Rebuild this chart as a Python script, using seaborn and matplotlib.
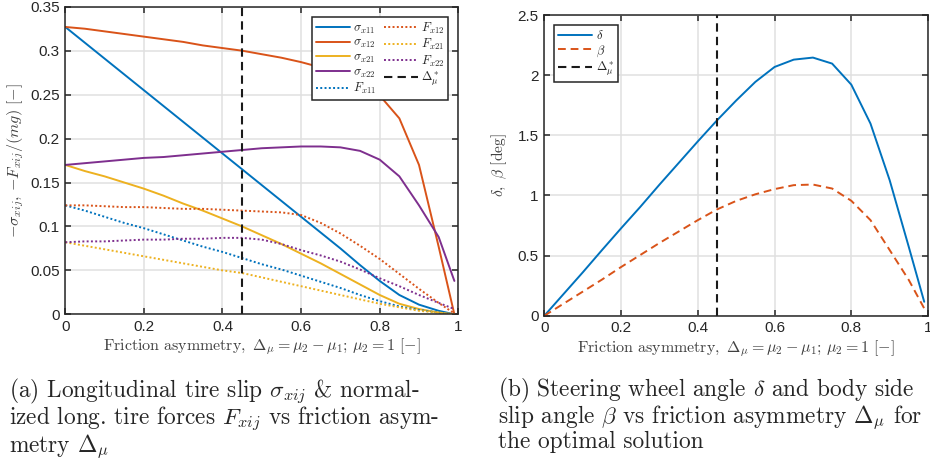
import numpy as np
import pandas as pd
import matplotlib
matplotlib.use("Agg")
import matplotlib.pyplot as plt
import seaborn as sns
from matplotlib.ticker import FormatStrFormatter

# -------------------------
# DATA
# -------------------------
delta_mu = [0.0, 0.05, 0.1, 0.15, 0.2, 0.25, 0.3, 0.35, 0.4, 0.45, 0.5,
            0.55, 0.6, 0.65, 0.7, 0.75, 0.8, 0.85, 0.9, 0.95, 0.99]

sigma_x11 = [0.327, 0.309, 0.291, 0.273, 0.255, 0.237, 0.219, 0.201, 0.183, 0.165, 0.147,
             0.129, 0.111, 0.093, 0.075, 0.056, 0.038, 0.022, 0.011, 0.004, 0.0]
sigma_x12 = [0.327, 0.325, 0.322, 0.319, 0.316, 0.313, 0.310, 0.306, 0.303, 0.300, 0.296,
             0.292, 0.287, 0.281, 0.273, 0.262, 0.249, 0.223, 0.170, 0.077, 0.0]
sigma_x21 = [0.170, 0.163, 0.157, 0.150, 0.143, 0.135, 0.126, 0.118, 0.109, 0.100, 0.090,
             0.080, 0.069, 0.058, 0.046, 0.034, 0.022, 0.012, 0.006, 0.002, 0.0]
sigma_x22 = [0.170, 0.172, 0.174, 0.176, 0.178, 0.179, 0.181, 0.183, 0.185, 0.187, 0.189,
             0.190, 0.191, 0.191, 0.190, 0.186, 0.176, 0.157, 0.124, 0.088, 0.038]
F_x11 = [0.124, 0.118, 0.111, 0.104, 0.098, 0.091, 0.084, 0.077, 0.071, 0.064, 0.057,
         0.051, 0.044, 0.037, 0.030, 0.022, 0.015, 0.009, 0.005, 0.002, 0.0]
F_x12 = [0.124, 0.124, 0.123, 0.122, 0.122, 0.121, 0.120, 0.120, 0.119, 0.118, 0.117,
         0.116, 0.113, 0.104, 0.092, 0.078, 0.063, 0.046, 0.029, 0.013, 0.001]
F_x21 = [0.082, 0.078, 0.074, 0.070, 0.066, 0.062, 0.058, 0.054, 0.050, 0.047, 0.042,
         0.037, 0.032, 0.027, 0.022, 0.017, 0.012, 0.008, 0.004, 0.002, 0.0]
F_x22 = [0.082, 0.083, 0.083, 0.084, 0.085, 0.085, 0.086, 0.086, 0.087, 0.087, 0.085,
         0.080, 0.073, 0.067, 0.060, 0.051, 0.041, 0.032, 0.022, 0.013, 0.006]

delta_deg = [0.0, 0.18, 0.36, 0.545, 0.727, 0.905, 1.09, 1.27, 1.45, 1.625, 1.79,
             1.945, 2.069, 2.13, 2.147, 2.097, 1.922, 1.598, 1.127, 0.57, 0.116]
beta_deg = [0.0, 0.10, 0.20, 0.30, 0.405, 0.505, 0.605, 0.70, 0.795, 0.884, 0.955,
            1.01, 1.053, 1.086, 1.091, 1.058, 0.956, 0.795, 0.546, 0.296, 0.061]

delta_mu_opt = 0.45

x_ticks = [0, 0.2, 0.4, 0.6, 0.8, 1]
y_ticks_a = [0, 0.05, 0.1, 0.15, 0.2, 0.25, 0.3, 0.35]
y_ticks_b = [0, 0.5, 1, 1.5, 2, 2.5]

# MATLAB default colours
C_BLUE, C_RED, C_YEL, C_PUR = "#0072BD", "#D95319", "#EDB120", "#7E2F8E"

# -------------------------
# STYLE
# -------------------------
sns.set_theme(style="ticks")
plt.rcParams["font.family"] = ["Liberation Sans", "DejaVu Sans"]
plt.rcParams["mathtext.fontset"] = "cm"
plt.rcParams["axes.edgecolor"] = "#262626"
plt.rcParams["axes.linewidth"] = 1.1
plt.rcParams["xtick.color"] = "#262626"
plt.rcParams["ytick.color"] = "#262626"

DOT = (0, (1, 1.2))
DASH = (0, (4, 2.5))
VDASH = (0, (4, 2.5))
LW = 1.4
XLABEL = r"$\mathrm{Friction\ asymmetry,}\ \Delta_\mu = \mu_2 - \mu_1;\,\mu_2 = 1\ [{-}]$"


def style_axes(ax, ylim, yticks):
    ax.set_xlim(0, 1)
    ax.set_ylim(*ylim)
    ax.set_xticks(x_ticks)
    ax.set_yticks(yticks)
    ax.xaxis.set_major_formatter(FormatStrFormatter("%g"))
    ax.yaxis.set_major_formatter(FormatStrFormatter("%g"))
    ax.tick_params(direction="in", top=True, right=True, length=4, width=1.1,
                   labelsize=11, pad=4)
    ax.grid(True, color="#e0e0e0", lw=1.1)
    ax.set_axisbelow(True)
    for s in ax.spines.values():
        s.set_visible(True)
    ax.set_xlabel(XLABEL, fontsize=11.5, color="#404040", labelpad=2)


def make_legend(ax, **kw):
    leg = ax.legend(fontsize=9, frameon=True, fancybox=False, framealpha=1,
                    edgecolor="#262626", handlelength=2.7, handletextpad=0.3,
                    labelspacing=0.12, borderaxespad=0.8, borderpad=0.3, **kw)
    leg.get_frame().set_linewidth(1.1)
    return leg


def fit_label_length(fig, label, target_px):
    # scale a rotated label so it spans the same length as in the reference
    fig.canvas.draw()
    h = label.get_window_extent().height
    label.set_fontsize(label.get_fontsize() * target_px / h)


fig = plt.figure(figsize=(9.3, 4.66), dpi=100)
fig.patch.set_facecolor("white")

# -------------------------
# (a) tire slip & forces
# -------------------------
ax1 = fig.add_axes([0.0702, 0.3255, 0.4226, 0.660])
series_a = [
    (sigma_x11, C_BLUE, "-", r"$\sigma_{x11}$"),
    (sigma_x12, C_RED, "-", r"$\sigma_{x12}$"),
    (sigma_x21, C_YEL, "-", r"$\sigma_{x21}$"),
    (sigma_x22, C_PUR, "-", r"$\sigma_{x22}$"),
    (F_x11, C_BLUE, DOT, r"$F_{x11}$"),
    (F_x12, C_RED, DOT, r"$F_{x12}$"),
    (F_x21, C_YEL, DOT, r"$F_{x21}$"),
    (F_x22, C_PUR, DOT, r"$F_{x22}$"),
]
for vals, col, ls, lab in series_a:
    sns.lineplot(x=delta_mu, y=vals, ax=ax1, color=col, linestyle=ls, lw=LW, label=lab)
ax1.axvline(delta_mu_opt, color="k", ls=VDASH, lw=1.5, label=r"$\Delta_\mu^*$")
style_axes(ax1, (0, 0.35), y_ticks_a)
ylab1 = ax1.set_ylabel(r"${-}\sigma_{xij},\,{-}F_{xij}/(mg)\ [{-}]$", fontsize=11.5,
                       color="#404040", labelpad=3)
make_legend(ax1, loc="upper right", ncol=2, columnspacing=0.6)

# -------------------------
# (b) steering & side slip
# -------------------------
ax2 = fig.add_axes([0.5853, 0.3225, 0.4126, 0.645])
sns.lineplot(x=delta_mu, y=delta_deg, ax=ax2, color=C_BLUE, linestyle="-", lw=LW,
             label=r"$\delta$")
sns.lineplot(x=delta_mu, y=beta_deg, ax=ax2, color=C_RED, linestyle=DASH, lw=LW,
             label=r"$\beta$")
ax2.axvline(delta_mu_opt, color="k", ls=VDASH, lw=1.5, label=r"$\Delta_\mu^*$")
style_axes(ax2, (0, 2.5), y_ticks_b)
ylab2 = ax2.set_ylabel(r"$\delta,\ \beta\ [\mathrm{deg}]$", fontsize=11.5,
                       color="#404040", labelpad=6)
make_legend(ax2, loc="upper left")

fit_label_length(fig, ylab1, 155)
fit_label_length(fig, ylab2, 64)

# -------------------------
# captions
# -------------------------
cap_a = ("(a) Longitudinal tire slip $\\sigma_{xij}$ & normal-\n"
         "ized long. tire forces $F_{xij}$ vs friction asym-\n"
         "metry $\\Delta_\\mu$")
cap_b = ("(b) Steering wheel angle $\\delta$ and body side\n"
         "slip angle $\\beta$ vs friction asymmetry $\\Delta_\\mu$ for\n"
         "the optimal solution")
fig.text(9 / 930, 1 - 376 / 466, cap_a, family="cmr10", fontsize=16.8, va="top",
         ha="left", linespacing=0.93)
fig.text(498 / 930, 1 - 376 / 466, cap_b, family="cmr10", fontsize=16.8, va="top",
         ha="left", linespacing=0.93)

fig.savefig("out.png", dpi=100, facecolor="white")
plt.close(fig)
